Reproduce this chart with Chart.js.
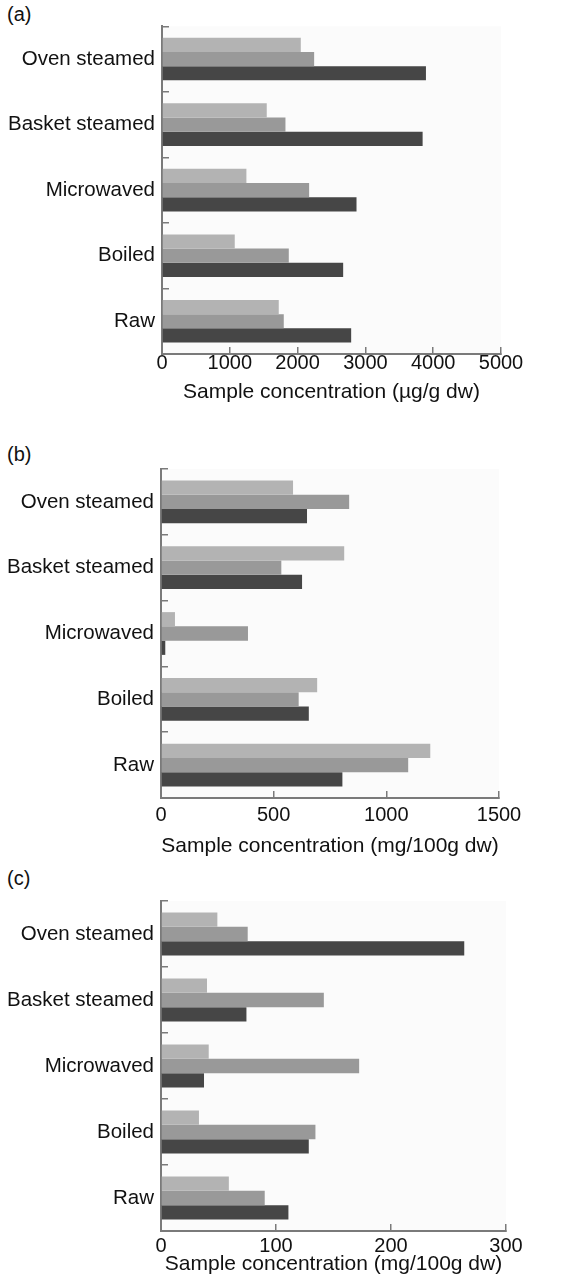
<!DOCTYPE html>
<html>
<head>
<meta charset="utf-8">
<script src="https://cdn.jsdelivr.net/npm/chart.js@4/dist/chart.umd.min.js"></script>
<style>
  body { margin: 0; background: #fff; width: 564px; height: 1285px; position: relative; overflow: hidden; }
  .panel { position: absolute; left: 0; width: 564px; }
  .tag { position: absolute; left: 7px; font: 20px "Liberation Sans", Arial, sans-serif; color: #111; }
</style>
</head>
<body>
<div class="tag" style="top:3px">(a)</div>
<div class="tag" style="top:443px">(b)</div>
<div class="tag" style="top:867px">(c)</div>
<div class="panel" style="top:0;height:415px"><canvas id="chartA"></canvas></div>
<div class="panel" style="top:415px;height:450px"><canvas id="chartB"></canvas></div>
<div class="panel" style="top:865px;height:420px"><canvas id="chartC"></canvas></div>
<script>
const methods = ['Oven steamed', 'Basket steamed', 'Microwaved', 'Boiled', 'Raw'];

// (a) µg/g dw
const aLight = [2047, 1545, 1245, 1073, 1722];
const aMid   = [2244, 1821, 2170, 1870, 1796];
const aDark  = [3893, 3844, 2869, 2672, 2790];
const aTicks = [0, 1000, 2000, 3000, 4000, 5000];

// (b) mg/100g dw
const bLight = [586, 813, 62, 693, 1195];
const bMid   = [835, 534, 386, 611, 1097];
const bDark  = [648, 626, 19, 656, 805];
const bTicks = [0, 500, 1000, 1500];

// (c) mg/100g dw
const cLight = [49, 40, 41.5, 33, 59];
const cMid   = [75.4, 141.6, 172.3, 134.3, 90.2];
const cDark  = [263.7, 74.3, 37.4, 128.5, 110.8];
const cTicks = [0, 100, 200, 300];

const FAMILY = '"Liberation Sans", Arial, sans-serif';
const FONT = { family: FAMILY, size: 20 };
const AXIS = '#7a7a7a';

const plotBg = {
  id: 'plotBg',
  beforeDraw(chart) {
    const { ctx, chartArea: a } = chart;
    ctx.save();
    ctx.fillStyle = '#fbfbfb';
    ctx.fillRect(a.left, a.top, a.right - a.left, a.bottom - a.top);
    ctx.restore();
  }
};

function renderPanel(canvas, light, mid, dark, ticks, title, opt) {
  return new Chart(canvas.getContext('2d'), {
    type: 'bar',
    data: {
      labels: methods,
      datasets: [
        { data: light, backgroundColor: '#b3b3b3' },
        { data: mid, backgroundColor: '#999999' },
        { data: dark, backgroundColor: '#464646' }
      ]
    },
    options: {
      indexAxis: 'y',
      responsive: true,
      maintainAspectRatio: false,
      animation: false,
      layout: { padding: { left: 0, right: opt.right, top: opt.top, bottom: opt.bottom } },
      datasets: { bar: { categoryPercentage: 0.65, barPercentage: 1, borderWidth: 0 } },
      scales: {
        x: {
          min: ticks[0],
          max: ticks[ticks.length - 1],
          afterBuildTicks: (s) => { s.ticks = ticks.map(v => ({ value: v })); },
          afterFit: (s) => { s.height = opt.xHeight; },
          ticks: { font: FONT, color: '#111', padding: opt.tickPad, maxRotation: 0, callback: (v) => String(v) },
          grid: { drawOnChartArea: false, tickLength: -7, color: AXIS, lineWidth: 1.5 },
          border: { color: AXIS, width: 2 },
          title: { display: true, text: title, font: { family: FAMILY, size: 21 }, color: '#111', padding: { top: 0, bottom: 4 } }
        },
        y: {
          afterFit: (s) => { s.width = opt.left; },
          ticks: { font: { family: FAMILY, size: 20.5 }, color: '#111', padding: 14 },
          grid: { drawOnChartArea: false, tickLength: -7, color: AXIS, lineWidth: 1.5 },
          border: { color: AXIS, width: 2 }
        }
      },
      plugins: {
        legend: { display: false },
        tooltip: { enabled: false }
      }
    },
    plugins: [plotBg]
  });
}

renderPanel(document.getElementById('chartA'), aLight, aMid, aDark, aTicks,
  'Sample concentration (\u00b5g/g dw)',
  { left: 162, right: 63, top: 25, bottom: 6, xHeight: 55, tickPad: 4 });
renderPanel(document.getElementById('chartB'), bLight, bMid, bDark, bTicks,
  'Sample concentration (mg/100g dw)',
  { left: 161, right: 65, top: 54, bottom: 2, xHeight: 65, tickPad: 12 });
renderPanel(document.getElementById('chartC'), cLight, cMid, cDark, cTicks,
  'Sample concentration (mg/100g dw)',
  { left: 161, right: 58, top: 36, bottom: 4, xHeight: 50, tickPad: 10 });
</script>
</body>
</html>
